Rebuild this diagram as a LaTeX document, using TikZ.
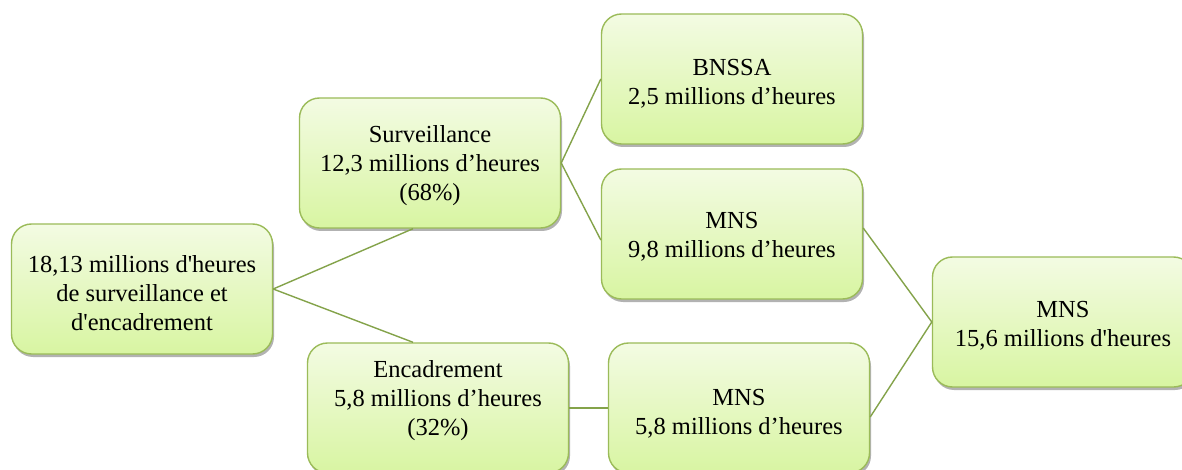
\documentclass[tikz,border=0pt]{standalone}
\usepackage{fontspec}
\setmainfont{Liberation Serif}
\usetikzlibrary{shadows,calc}
\definecolor{boxborder}{HTML}{9BBB59}
\definecolor{boxtop}{HTML}{F3FBE3}
\definecolor{boxbottom}{HTML}{D8F5A2}
\definecolor{linkcol}{HTML}{84A34A}
\begin{document}
\begin{tikzpicture}[x=1pt,y=-1pt,
  box/.style={draw=boxborder, line width=1.4pt, rounded corners=20pt,
    top color=boxtop, bottom color=boxbottom,
    minimum width=261pt, minimum height=130pt, inner sep=0pt,
    drop shadow={shadow xshift=1.5pt, shadow yshift=-3pt, fill=black, opacity=0.3}},
  txt/.style={align=center, inner sep=0pt, font=\fontsize{24.5}{29}\selectfont},
  link/.style={draw=linkcol, line width=1.4pt}]
\clip (0,0) rectangle (1182,470);
\fill[white] (0,0) rectangle (1182,470);
% boxes
\node[box] (root) at (142,289) {};
\node[txt] (roott) at (142,293) {18,13 millions d\textquotesingle heures\\de surveillance et\\d\textquotesingle encadrement};
\node[box] (surv) at (430,163) {};
\node[txt] (survt) at (430,166) {Surveillance\\12,3 millions d’heures\\(68\%)};
\node[box] (bnssa) at (732,79) {};
\node[txt] (bnssat) at (732,84) {BNSSA\\2,5 millions d’heures};
\node[box] (mnsa) at (732,234) {};
\node[txt] (mnsat) at (732,237) {MNS\\9,8 millions d’heures};
\node[box] (mnst) at (1063,322) {};
\node[txt] (mnstt) at (1063,326) {MNS\\15,6 millions d\textquotesingle heures};
\node[box] (enc) at (438,408) {};
\node[txt] (enct) at (438,401) {Encadrement\\5,8 millions d’heures\\(32\%)};
\node[box] (mnsb) at (739,408) {};
\node[txt] (mnsbt) at (739,414) {MNS\\5,8 millions d’heures};
% connectors
\draw[link] (root.east) -- ([xshift=-17pt]surv.south);
\draw[link] (root.east) -- ([xshift=-25pt]enc.north);
\draw[link] (surv.east) -- (bnssa.west);
\draw[link] (surv.east) -- ([yshift=-6pt]mnsa.west);
\draw[link] ([yshift=6pt]mnsa.east) -- (mnst.west);
\draw[link] ([yshift=-9pt]mnsb.east) -- (mnst.west);
\draw[link] (enc.east) -- (mnsb.west);
\end{tikzpicture}
\end{document}
